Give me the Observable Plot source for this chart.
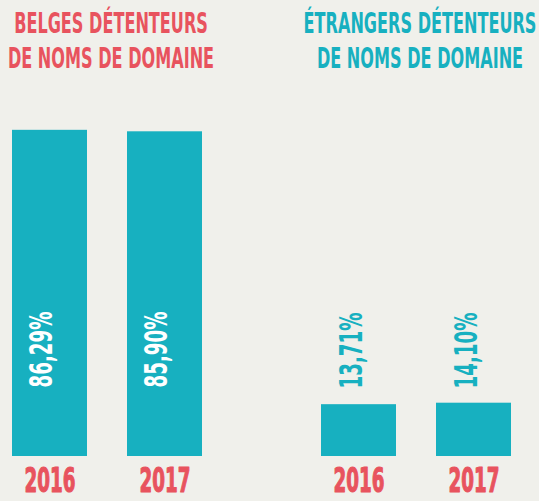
<!DOCTYPE html>
<html><head><meta charset="utf-8">
<script src="https://cdn.jsdelivr.net/npm/d3@7"></script>
<script src="https://cdn.jsdelivr.net/npm/@observablehq/plot@0.6"></script>
<style>
html,body{margin:0;padding:0;background:#f0f0eb;}
#chart svg{display:block;}
</style></head><body><div id="chart"></div>
<script>
// ---- data ----
const groups = ["Belges", "Étrangers"];
const years = ["2016", "2017"];
const belgesValues = [86.29, 85.90];
const etrangersValues = [13.71, 14.10];
const belgesLabels = ["86,29%", "85,90%"];
const etrangersLabels = ["13,71%", "14,10%"];
const titleLine1 = ["BELGES DÉTENTEURS", "ÉTRANGERS DÉTENTEURS"];
const titleLine2 = ["DE NOMS DE DOMAINE", "DE NOMS DE DOMAINE"];

// ---- styles ----
const BG = "#f0f0eb", TEAL = "#17b0c0", CORAL = "#e8535e";
const FONT = "DejaVu Sans, sans-serif";

const rows = [
  ...years.map((y, i) => ({group: groups[0], year: y, value: belgesValues[i], label: belgesLabels[i]})),
  ...years.map((y, i) => ({group: groups[1], year: y, value: etrangersValues[i], label: etrangersLabels[i]}))
];
const titles = groups.map((g, i) => ({group: g, line1: titleLine1[i], line2: titleLine2[i]}));
const titleFill = d => d.group === groups[0] ? CORAL : TEAL;

const plot = Plot.plot({
  width: 539, height: 501,
  marginTop: 78, marginBottom: 45, marginLeft: 11, marginRight: 26,
  style: {background: BG, fontFamily: FONT, overflow: "visible"},
  fx: {domain: groups, axis: null, paddingInner: 0.3806, paddingOuter: 0},
  x: {domain: years, paddingInner: 0.345, paddingOuter: 0, axis: null},
  y: {domain: [0, 100], axis: null},
  color: {type: "identity"},
  marks: [
    Plot.barY(rows, {fx: "group", x: "year", y: "value", fill: TEAL}),
    Plot.text(rows.filter(d => d.value > 50), {fx: "group", x: "year", text: "label", frameAnchor: "bottom",
      dy: -107, dx: 2, rotate: -90, fill: "white", fontSize: 32, fontWeight: "bold"}),
    Plot.text(rows.filter(d => d.value <= 50), {fx: "group", x: "year", text: "label", frameAnchor: "bottom",
      dy: -106, dx: 3, rotate: -90, fill: TEAL, fontSize: 32, fontWeight: "bold"}),
    Plot.text(rows, {fx: "group", x: "year", text: "year", frameAnchor: "bottom", lineAnchor: "top",
      dy: 12.5, fill: CORAL, stroke: CORAL, strokeWidth: 1.2, fontSize: 33, fontWeight: "bold"}),
    Plot.text(titles, {fx: "group", text: "line1", frameAnchor: "top", lineAnchor: "top",
      dy: -65, dx: 3, fill: titleFill, fontSize: 28, fontWeight: "bold"}),
    Plot.text(titles, {fx: "group", text: "line2", frameAnchor: "top", lineAnchor: "top",
      dy: -30, dx: 3, fill: titleFill, fontSize: 28, fontWeight: "bold"})
  ]
});
document.getElementById("chart").appendChild(plot);

// condense text horizontally (narrow display typeface look) via a scale transform
const allLabels = [...belgesLabels, ...etrangersLabels];
plot.querySelectorAll("text").forEach(t => {
  const s = t.textContent, w = t.getComputedTextLength();
  const f = allLabels.includes(s) ? 76 / w : years.includes(s) ? 51 / w : 0.575;
  const tr = t.getAttribute("transform") || "";
  t.setAttribute("transform", `${tr} scale(${f},1)`.trim());
});
</script></body></html>
